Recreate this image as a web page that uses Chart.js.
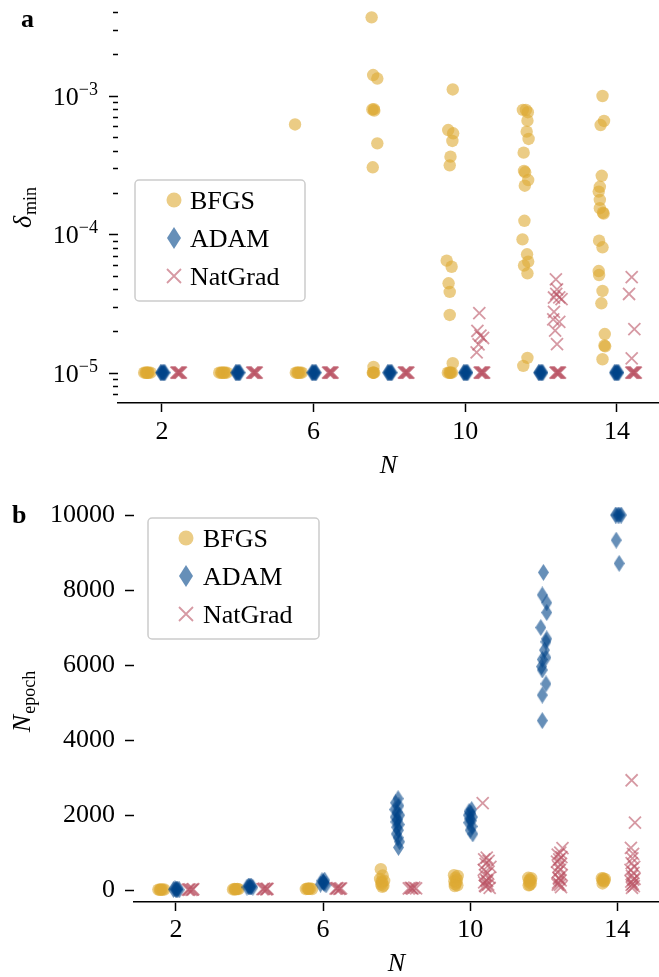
<!DOCTYPE html>
<html>
<head>
<meta charset="utf-8">
<script src="https://cdn.jsdelivr.net/npm/chart.js@4.4.1/dist/chart.umd.min.js"></script>
<style>
  html, body { margin: 0; padding: 0; background: #fff; }
  #wrap { position: relative; width: 659px; height: 977px; }
  canvas { position: absolute; left: 0; }
  #chartA { top: 0; }
  #chartB { top: 488px; }
</style>
</head>
<body>
<div id="wrap">
  <canvas id="chartA" width="659" height="488"></canvas>
  <canvas id="chartB" width="659" height="489"></canvas>
</div>
<script>
// ---- data ----
const methods = ['BFGS', 'ADAM', 'NatGrad'];
const xTicks = [2, 6, 10, 14];
const deltaTicks = [1e-5, 1e-4, 1e-3];
const deltaTickLabels = ['\u22125', '\u22124', '\u22123'];
const epochTicks = [0, 2000, 4000, 6000, 8000, 10000];

// panel a: [N (with dodge/jitter as drawn), delta_min]
const bfgsDelta = [
  [1.53,1e-5],[1.57,1e-5],[1.61,1e-5],[1.65,1e-5],[1.70,1e-5],[1.59,1e-5],[1.63,1e-5],
  [3.51,1e-5],[3.56,1e-5],[3.61,1e-5],[3.66,1e-5],[3.71,1e-5],[3.58,1e-5],[3.64,1e-5],
  [5.53,1e-5],[5.57,1e-5],[5.61,1e-5],[5.65,1e-5],[5.69,1e-5],[5.59,1e-5],[5.51,6.2e-4],
  [7.56,1e-5],[7.58,1e-5],[7.60,1e-5],[7.57,1e-5],[7.58,1.1e-5],
  [7.53,3.68e-3],[7.57,1.41e-3],[7.68,1.33e-3],[7.55,7.95e-4],[7.59,8.0e-4],[7.60,7.8e-4],[7.68,4.53e-4],[7.56,3.04e-4],
  [9.54,1e-5],[9.58,1e-5],[9.62,1e-5],[9.65,1e-5],[9.60,1e-5],[9.67,1.17e-5],
  [9.67,1.11e-3],[9.55,5.65e-4],[9.68,5.35e-4],[9.66,4.71e-4],[9.61,3.63e-4],[9.59,3.14e-4],
  [9.51,6.44e-5],[9.64,5.82e-5],[9.56,4.42e-5],[9.59,3.83e-5],[9.59,2.61e-5],
  [11.52,7.9e-4],[11.60,7.9e-4],[11.65,7.6e-4],[11.64,6.6e-4],[11.62,5.5e-4],[11.67,4.87e-4],[11.54,3.88e-4],
  [11.55,2.86e-4],[11.58,2.8e-4],[11.66,2.46e-4],[11.57,2.24e-4],[11.56,1.25e-4],[11.51,9.18e-5],[11.63,7.16e-5],
  [11.66,6.34e-5],[11.55,5.93e-5],[11.64,5.22e-5],[11.64,1.28e-5],[11.53,1.12e-5],
  [13.62,9.95e-4],[13.66,6.57e-4],[13.57,6.14e-4],[13.60,2.64e-4],[13.55,2.2e-4],[13.52,2.03e-4],[13.55,1.77e-4],
  [13.55,1.54e-4],[13.63,1.43e-4],[13.65,1.41e-4],[13.53,8.97e-5],[13.62,8.04e-5],[13.52,5.42e-5],[13.53,5.07e-5],
  [13.62,3.89e-5],[13.59,3.17e-5],[13.68,1.9e-5],[13.67,1.57e-5],[13.69,1.55e-5],[13.62,1.25e-5]
];
const adamDelta = [
  [1.96,1e-5],[1.98,1e-5],[2.00,1e-5],[2.02,1e-5],[2.04,1e-5],[2.06,1e-5],[2.08,1e-5],
  [3.94,1e-5],[3.96,1e-5],[3.98,1e-5],[4.00,1e-5],[4.02,1e-5],[4.04,1e-5],[4.06,1e-5],
  [5.95,1e-5],[5.97,1e-5],[5.99,1e-5],[6.01,1e-5],[6.03,1e-5],[6.05,1e-5],[6.07,1e-5],
  [7.95,1e-5],[7.97,1e-5],[7.99,1e-5],[8.01,1e-5],[8.03,1e-5],[8.05,1e-5],[8.07,1e-5],
  [9.95,1e-5],[9.97,1e-5],[9.99,1e-5],[10.01,1e-5],[10.03,1e-5],[10.05,1e-5],[10.07,1e-5],
  [11.93,1e-5],[11.95,1e-5],[11.97,1e-5],[11.99,1e-5],[12.01,1e-5],[12.03,1e-5],[12.05,1e-5],
  [13.93,1e-5],[13.95,1e-5],[13.97,1e-5],[13.99,1e-5],[14.01,1e-5],[14.03,1e-5],[14.05,1e-5]
];
const natgradDelta = [
  [2.38,1e-5],[2.40,1e-5],[2.42,1e-5],[2.44,1e-5],[2.46,1e-5],[2.48,1e-5],[2.50,1e-5],
  [4.38,1e-5],[4.40,1e-5],[4.42,1e-5],[4.44,1e-5],[4.46,1e-5],[4.48,1e-5],[4.50,1e-5],
  [6.38,1e-5],[6.40,1e-5],[6.42,1e-5],[6.44,1e-5],[6.46,1e-5],[6.48,1e-5],[6.50,1e-5],
  [8.38,1e-5],[8.40,1e-5],[8.42,1e-5],[8.44,1e-5],[8.46,1e-5],[8.48,1e-5],[8.50,1e-5],
  [10.38,1e-5],[10.40,1e-5],[10.42,1e-5],[10.44,1e-5],[10.46,1e-5],[10.48,1e-5],[10.50,1e-5],
  [10.37,2.69e-5],[10.32,2.0e-5],[10.40,1.85e-5],[10.47,1.78e-5],[10.35,1.6e-5],[10.30,1.4e-5],
  [12.38,1e-5],[12.40,1e-5],[12.42,1e-5],[12.44,1e-5],[12.46,1e-5],[12.48,1e-5],[12.50,1e-5],
  [12.39,4.72e-5],[12.42,4.0e-5],[12.40,3.7e-5],[12.34,3.49e-5],[12.48,3.5e-5],[12.54,3.4e-5],[12.34,2.75e-5],
  [12.32,2.43e-5],[12.48,2.33e-5],[12.37,2.01e-5],[12.42,1.61e-5],
  [14.38,1e-5],[14.40,1e-5],[14.42,1e-5],[14.44,1e-5],[14.46,1e-5],[14.48,1e-5],[14.50,1e-5],
  [14.39,4.89e-5],[14.32,3.7e-5],[14.46,2.06e-5],[14.39,1.27e-5]
];

// panel b: [N (with dodge/jitter as drawn), N_epoch]
const bfgsEpoch = [
  [1.52,15],[1.56,10],[1.60,20],[1.64,12],[1.68,18],[1.58,14],
  [3.55,20],[3.59,30],[3.63,25],[3.67,35],[3.70,28],[3.61,22],
  [5.53,30],[5.57,40],[5.61,35],[5.65,45],[5.70,30],[5.60,38],
  [7.57,560],[7.62,390],[7.55,300],[7.66,250],[7.60,200],[7.58,150],[7.64,120],[7.61,90],[7.59,240],
  [9.56,400],[9.66,380],[9.60,330],[9.64,280],[9.57,240],[9.62,200],[9.59,160],[9.65,130],[9.58,110],
  [11.58,330],[11.66,320],[11.62,280],[11.60,230],[11.65,180],[11.62,140],[11.59,130],[11.64,260],
  [13.58,320],[13.62,310],[13.66,300],[13.60,270],[13.63,230],[13.60,180],[13.65,250]
];
const adamEpoch = [
  [1.93,20],[1.97,35],[2.01,15],[2.05,30],[2.09,10],[1.99,25],[2.03,20],
  [3.93,80],[3.97,110],[4.01,90],[4.05,105],[4.09,75],[3.99,95],[4.03,85],
  [5.93,160],[5.97,250],[6.01,200],[6.04,270],[6.08,140],[6.00,220],[6.03,180],
  [8.04,2440],[7.97,2330],[8.06,2250],[7.95,2150],[8.01,2080],[8.08,2000],[7.96,1950],[8.03,1880],
  [7.98,1820],[8.07,1750],[8.00,1680],[8.05,1600],[7.99,1500],[8.04,1400],[8.08,1290],[8.05,1140],
  [10.04,2150],[9.97,2100],[10.02,2050],[9.95,2000],[10.06,1950],[9.99,1900],[10.03,1850],[9.96,1800],
  [10.05,1700],[10.00,1600],[10.07,1500],
  [11.99,8470],[11.96,7870],[12.08,7660],[12.08,7400],[11.92,7000],[12.08,6700],[12.06,6620],[12.02,6400],
  [12.06,6200],[11.96,6150],[11.94,5960],[11.96,5870],[12.06,5500],[11.96,5200],[11.96,4520],
  [13.95,10000],[13.99,10000],[14.03,10000],[14.07,10000],[14.11,10000],[13.97,9330],[14.05,8710]
];
const natgradEpoch = [
  [2.32,15],[2.37,20],[2.42,10],[2.47,25],[2.35,12],[2.45,18],
  [4.35,30],[4.40,40],[4.45,25],[4.49,35],[4.38,28],[4.47,32],
  [6.34,40],[6.39,55],[6.44,35],[6.49,50],[6.37,45],[6.46,42],
  [8.33,45],[8.38,60],[8.43,40],[8.48,70],[8.53,50],[8.41,55],
  [10.34,2320],[10.45,870],[10.38,820],[10.50,780],[10.42,700],[10.55,620],[10.37,540],[10.47,460],
  [10.40,400],[10.52,330],[10.44,270],[10.38,210],[10.49,150],[10.42,100],[10.53,60],[10.46,240],[10.40,120],
  [12.51,1120],[12.45,1000],[12.38,950],[12.48,880],[12.42,820],[12.36,760],[12.47,700],[12.40,620],
  [12.44,540],[12.37,470],[12.49,400],[12.41,330],[12.46,260],[12.39,200],[12.44,140],[12.47,80],[12.42,300],[12.38,150],
  [14.39,2930],[14.48,1800],[14.37,1130],[14.43,970],[14.41,850],[14.39,720],[14.46,620],[14.36,540],
  [14.44,460],[14.40,380],[14.47,300],[14.38,230],[14.42,170],[14.45,110],[14.40,60],[14.43,280],[14.39,140]
];

// ---- styling ----
const FAMILY = '"Liberation Serif", "DejaVu Serif", serif';
const colBFGS = 'rgba(221,170,51,0.6)';
const colADAM = 'rgba(0,68,136,0.6)';
const colNat = 'rgba(187,85,102,0.6)';

function diamond(w, h, color) {
  const c = document.createElement('canvas');
  c.width = w; c.height = h;
  const g = c.getContext('2d');
  g.fillStyle = color;
  g.beginPath();
  g.moveTo(w / 2, 0); g.lineTo(w, h / 2); g.lineTo(w / 2, h); g.lineTo(0, h / 2);
  g.closePath(); g.fill();
  return c;
}
const adamMarker = diamond(11, 17, colADAM);
const adamLegendMarker = diamond(14, 22, colADAM);

const toXY = arr => arr.map(p => ({x: p[0], y: p[1]}));

function makeDatasets(b, a, n) {
  return [
    {label: methods[0], data: toXY(b), pointStyle: 'circle', pointRadius: 6.2,
     backgroundColor: colBFGS, borderWidth: 0, order: 3},
    {label: methods[1], data: toXY(a), pointStyle: adamMarker, pointRadius: 8,
     backgroundColor: colADAM, borderWidth: 0, order: 2},
    {label: methods[2], data: toXY(n), pointStyle: 'crossRot', pointRadius: 8.5,
     borderColor: colNat, backgroundColor: 'rgba(0,0,0,0)', borderWidth: 1.8, order: 1}
  ];
}

function drawLegend(ctx, box, rowY, markerX, textX) {
  ctx.save();
  ctx.beginPath();
  ctx.roundRect(box.x, box.y, box.w, box.h, 4);
  ctx.fillStyle = 'rgba(255,255,255,0.8)';
  ctx.fill();
  ctx.strokeStyle = '#cccccc';
  ctx.lineWidth = 1.5;
  ctx.stroke();
  // BFGS
  ctx.fillStyle = colBFGS;
  ctx.beginPath(); ctx.arc(markerX, rowY[0], 7.5, 0, Math.PI * 2); ctx.fill();
  // ADAM
  ctx.drawImage(adamLegendMarker, markerX - 7, rowY[1] - 11);
  // NatGrad
  ctx.strokeStyle = colNat; ctx.lineWidth = 1.8;
  ctx.beginPath();
  ctx.moveTo(markerX - 7, rowY[2] - 7); ctx.lineTo(markerX + 7, rowY[2] + 7);
  ctx.moveTo(markerX + 7, rowY[2] - 7); ctx.lineTo(markerX - 7, rowY[2] + 7);
  ctx.stroke();
  ctx.fillStyle = '#000';
  ctx.font = '26px ' + FAMILY;
  ctx.textBaseline = 'alphabetic';
  methods.forEach((m, i) => ctx.fillText(m, textX, rowY[i] + 9));
  ctx.restore();
}

function drawSubLabel(ctx, cx, cy, main, sub) {
  ctx.save();
  ctx.translate(cx, cy);
  ctx.rotate(-Math.PI / 2);
  ctx.fillStyle = '#000';
  ctx.textBaseline = 'alphabetic';
  ctx.textAlign = 'left';
  const mainFont = 'italic 26px ' + FAMILY, subFont = '18px ' + FAMILY;
  ctx.font = mainFont; const wm = ctx.measureText(main).width;
  ctx.font = subFont; const ws = ctx.measureText(sub).width;
  const x0 = -(wm + ws) / 2;
  ctx.font = mainFont; ctx.fillText(main, x0, 0);
  ctx.font = subFont; ctx.fillText(sub, x0 + wm + 1, 5);
  ctx.restore();
}

function drawPanelLetter(ctx, letter, x, y) {
  ctx.save();
  ctx.fillStyle = '#000';
  ctx.font = 'bold 26px ' + FAMILY;
  ctx.textBaseline = 'alphabetic';
  ctx.fillText(letter, x, y);
  ctx.restore();
}

// log axis of panel a: ticks and 10^n labels drawn through the y scale
function drawLogAxis(chart) {
  const ctx = chart.ctx, ys = chart.scales.y, left = chart.chartArea.left;
  ctx.save();
  ctx.strokeStyle = '#000';
  ctx.lineWidth = 1.3;
  ctx.beginPath();
  for (let e = -6; e <= -3; e++) {
    for (let k = 2; k <= 9; k++) {
      const v = k * Math.pow(10, e);
      if (v < ys.min || v > ys.max) continue;
      const py = Math.round(ys.getPixelForValue(v)) + 0.5;
      ctx.moveTo(left - 5, py); ctx.lineTo(left, py);
    }
  }
  ctx.stroke();
  ctx.lineWidth = 1.6;
  ctx.beginPath();
  deltaTicks.forEach(v => {
    const py = Math.round(ys.getPixelForValue(v)) + 0.5;
    ctx.moveTo(left - 9, py); ctx.lineTo(left, py);
  });
  ctx.stroke();
  ctx.fillStyle = '#000';
  ctx.textBaseline = 'alphabetic';
  const right = left - 20;
  deltaTicks.forEach((v, i) => {
    const py = ys.getPixelForValue(v);
    ctx.font = '18px ' + FAMILY;
    const ws = ctx.measureText(deltaTickLabels[i]).width;
    ctx.fillText(deltaTickLabels[i], right - ws, py - 1);
    ctx.font = '26px ' + FAMILY;
    const wm = ctx.measureText('10').width;
    ctx.fillText('10', right - ws - wm, py + 9);
  });
  ctx.restore();
}

const tickFont = {family: 'Liberation Serif', size: 26, lineHeight: 1};

const overlayA = {
  id: 'overlayA',
  afterDraw(chart) {
    const ctx = chart.ctx;
    drawLogAxis(chart);
    drawLegend(ctx, {x: 135, y: 180, w: 170, h: 121}, [200, 238, 276], 174, 190);
    drawSubLabel(ctx, 31, 208, '\u03b4', 'min');
    drawPanelLetter(ctx, 'a', 21, 27);
  }
};

const overlayB = {
  id: 'overlayB',
  afterDraw(chart) {
    const ctx = chart.ctx;
    drawLegend(ctx, {x: 148, y: 30, w: 171, h: 121}, [50, 88, 126], 186, 203);
    drawSubLabel(ctx, 30, 214, 'N', 'epoch');
    drawPanelLetter(ctx, 'b', 12, 35);
  }
};

function xAxis(min, max, height, pad, titlePad) {
  return {
    type: 'linear', min: min, max: max,
    afterBuildTicks: s => { s.ticks = xTicks.map(v => ({value: v})); },
    afterFit: s => { s.height = height; s.paddingLeft = 0; s.paddingRight = 0; },
    grid: {drawOnChartArea: false, drawTicks: true, tickLength: 9, tickColor: '#000', tickWidth: 1.5},
    border: {display: true, color: '#000', width: 1.6},
    ticks: {font: tickFont, color: '#000', padding: pad, maxRotation: 0, callback: v => String(v)},
    title: {display: true, text: 'N', color: '#000',
            font: {family: 'Liberation Serif', size: 26, style: 'italic', lineHeight: 1},
            padding: {top: 0, bottom: titlePad}}
  };
}

new Chart(document.getElementById('chartA'), {
  type: 'scatter',
  data: {datasets: makeDatasets(bfgsDelta, adamDelta, natgradDelta)},
  options: {
    responsive: false, animation: false,
    layout: {autoPadding: false, padding: {left: 118, top: 0, right: 0, bottom: 0}},
    plugins: {legend: {display: false}, tooltip: {enabled: false}},
    scales: {
      x: xAxis(0.84, 15.11, 85, 7, 9),
      y: {type: 'logarithmic', display: false, min: 6.04e-6, max: 4.91e-3}
    }
  },
  plugins: [overlayA]
});

new Chart(document.getElementById('chartB'), {
  type: 'scatter',
  data: {datasets: makeDatasets(bfgsEpoch, adamEpoch, natgradEpoch)},
  options: {
    responsive: false, animation: false,
    layout: {autoPadding: false, padding: {left: 0, top: 12, right: 0, bottom: 0}},
    plugins: {legend: {display: false}, tooltip: {enabled: false}},
    scales: {
      x: xAxis(0.858, 15.134, 75, 6, 0),
      y: {
        type: 'linear', min: -315, max: 10400,
        afterBuildTicks: s => { s.ticks = epochTicks.map(v => ({value: v})); },
        afterFit: s => { s.width = 134; s.paddingTop = 0; s.paddingBottom = 0; },
        grid: {drawOnChartArea: false, drawTicks: true, tickLength: 9, tickColor: '#000', tickWidth: 1.5},
        border: {display: false},
        ticks: {font: tickFont, color: '#000', padding: 10, callback: v => String(v)}
      }
    }
  },
  plugins: [overlayB]
});
</script>
</body>
</html>
